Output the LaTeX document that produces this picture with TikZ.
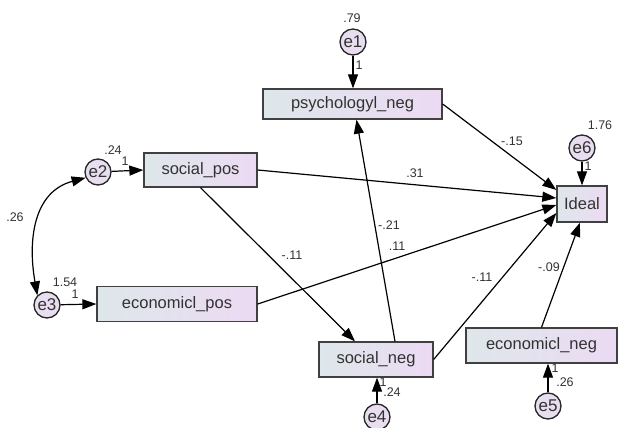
\documentclass[tikz,border=0pt]{standalone}
\usepackage{fontspec}
\setmainfont{Liberation Sans}
\usetikzlibrary{calc,arrows.meta,positioning}

\definecolor{boxleft}{RGB}{222,231,234}
\definecolor{boxright}{RGB}{236,218,243}
\definecolor{errfill}{RGB}{232,222,240}
\definecolor{txtgray}{RGB}{50,50,50}

\tikzset{
  varbox/.style={draw=black!75, line width=1.3pt, left color=boxleft, right color=boxright,
    minimum height=34pt, inner sep=0pt, text=txtgray, font=\fontsize{16.5}{16.5}\selectfont},
  errnode/.style={circle, draw=black!85, line width=1.3pt, fill=errfill, minimum size=26pt,
    inner sep=0pt, text=txtgray, font=\fontsize{17}{17}\selectfont},
  regpath/.style={line width=1.2pt, -{Triangle[length=14pt,width=10pt]}},
  covpath/.style={line width=1.2pt, {Triangle[length=14pt,width=10pt]}-{Triangle[length=14pt,width=10pt]}},
  est/.style={inner sep=0pt, text=txtgray, font=\fontsize{12.5}{12.5}\selectfont}
}

\begin{document}
\begin{tikzpicture}[x=1pt,y=-1pt]
\useasboundingbox (0,0) rectangle (622,428);

% observed variables
\node[varbox, minimum width=179pt, minimum height=30pt] (psy) at (352.5,104) {psychologyl\_neg};
\node[varbox, minimum width=113pt] (sp) at (200.5,170) {social\_pos};
\node[varbox, minimum width=160pt, minimum height=35pt] (ep) at (177,304) {economicl\_pos};
\node[varbox, minimum width=50pt, minimum height=36pt] (ideal) at (582,204) {Ideal};
\node[varbox, minimum width=114pt, minimum height=35pt] (sn) at (376,359.5) {social\_neg};
\node[varbox, minimum width=151pt, minimum height=35pt] (en) at (541.5,345.5) {economicl\_neg};

% error terms
\node[errnode] (e1) at (353,42) {e1};
\node[errnode] (e2) at (98,172) {e2};
\node[errnode] (e3) at (47,305) {e3};
\node[errnode] (e4) at (377,417) {e4};
\node[errnode] (e5) at (548,406) {e5};
\node[errnode] (e6) at (582,148) {e6};

\draw[regpath] (e1) -- (e1 |- psy.north);
\draw[regpath] (e2) -- (sp.west);
\draw[regpath] (e3) -- (ep.west);
\draw[regpath] (e4) -- (e4 |- sn.south);
\draw[regpath] (e5) -- (e5 |- en.south);
\draw[regpath] (e6) -- (e6 |- ideal.north);

\draw[covpath] (e2.205) to[out=195, in=100, looseness=1.1] (e3.135);

% paths
\draw[regpath] (psy.east) -- ($(ideal.west)+(0,-14)$);
\draw[regpath] (sp.east) -- ($(ideal.west)+(0,-6)$);
\draw[regpath] (ep.east) -- ($(ideal.west)+(0,1)$);
\draw[regpath] (sn.east) -- ($(ideal.west)+(0,9)$);
\draw[regpath] (en.north) -- ($(ideal.south)+(-2,0)$);
\draw[regpath] (sp.south) -- ($(sn.north)+(-21,0)$);
\draw[regpath] ($(sn.north)+(19,0)$) -- ($(psy.south)+(4,0)$);

% estimates
\node[est] (v1) at (352,18) {.79};
\node[est] (w1) at (359,65) {1};
\node[est] (v2) at (113,150) {.24};
\node[est] (w2) at (125,161) {1};
\node[est] (c23) at (15,217) {.26};
\node[est] (v3) at (65,282) {1.54};
\node[est] (w3) at (75,294) {1};
\node[est] (v6) at (600,125) {1.76};
\node[est] (w6) at (588,166) {1};
\node[est] (w4) at (383,382) {1};
\node[est] (v4) at (392,392) {.24};
\node[est] (w5) at (555,368) {1};
\node[est] (v5) at (565,382) {.26};

\node[est] (b1) at (512,141) {-.15};
\node[est] (b2) at (415,173) {.31};
\node[est] (b3) at (389,225) {-.21};
\node[est] (b4) at (397,246) {.11};
\node[est] (b5) at (292,255) {-.11};
\node[est] (b6) at (482,277) {-.11};
\node[est] (b7) at (549,267) {-.09};

\end{tikzpicture}
\end{document}
